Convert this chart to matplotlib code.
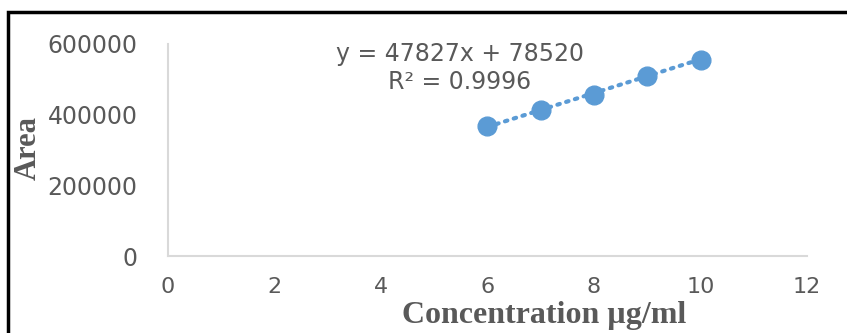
import numpy as np
import matplotlib
matplotlib.use("Agg")
import matplotlib.pyplot as plt
from matplotlib.patches import Rectangle

# Data
conc = [6, 7, 8, 9, 10]
area = [368000, 413000, 457000, 509000, 555000]
slope, intercept = 47827, 78520
eq_text = "y = 47827x + 78520\nR² = 0.9996"

xticks = [0, 2, 4, 6, 8, 10, 12]
yticks = [0, 200000, 400000, 600000]

blue = "#5b9bd5"
grey_txt = "#595959"
grey_axis = "#d9d9d9"

fig = plt.figure(figsize=(8.47, 3.33), dpi=100)
ax = fig.add_axes([0.1983, 0.2312, 0.7545, 0.6367])

# trendline
tx = np.array([conc[0], conc[-1]])
ax.plot(tx, slope * tx + intercept, linestyle=(0, (0.6, 1.6)), color=blue,
        linewidth=3, dash_capstyle="round", zorder=2)
ax.plot(conc, area, "o", color=blue, markersize=13.5, zorder=3)

ax.set_xlim(0, 12)
ax.set_ylim(0, 600000)
ax.set_xticks(xticks)
ax.set_yticks(yticks)
ax.tick_params(length=0, labelsize=16, labelcolor=grey_txt)
ax.tick_params(axis="x", pad=15)
ax.tick_params(axis="y", pad=22, labelsize=17)
for s in ["top", "right"]:
    ax.spines[s].set_visible(False)
for s in ["left", "bottom"]:
    ax.spines[s].set_color(grey_axis)
    ax.spines[s].set_linewidth(1.5)

ax.text(5.48, 533000, eq_text, ha="center", va="center", fontsize=17,
        color=grey_txt, linespacing=1.2)

fig.text(0.033, 0.555, "Area", rotation=90, ha="center", va="center",
         family="Liberation Serif", weight="bold", fontsize=22, color=grey_txt)
fig.text(0.642, 0.03, "Concentration µg/ml", ha="center", va="baseline",
         family="Liberation Serif", weight="bold", fontsize=23, color=grey_txt)

# outer border (cut off at right and bottom)
fig.patches.append(Rectangle((8 / 847, -0.1), 1.2, 1 - 12 / 333 + 0.1,
                             transform=fig.transFigure, fill=False,
                             edgecolor="black", linewidth=2.5))

fig.savefig("out.png", dpi=100)
